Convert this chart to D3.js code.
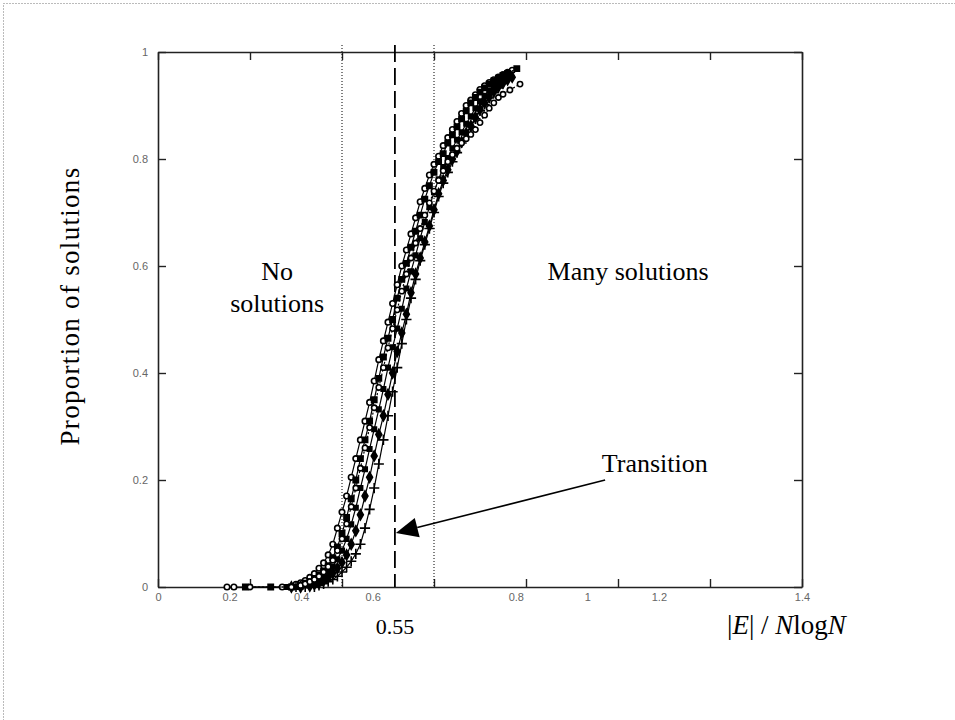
<!DOCTYPE html>
<html>
<head>
<meta charset="utf-8">
<script src="https://cdn.jsdelivr.net/npm/d3@7"></script>
<style>
  body { margin: 0; background: #fff; }
  svg { display: block; }
</style>
</head>
<body>
<div id="chart"></div>
<script>
// tick values (marks) and the label row printed under the axis
var xTicks = [0, 0.2, 0.4, 0.6, 0.8, 1, 1.2, 1.4];
var xLabelRow = ["0", "0.2", "0.4", "0.6", "", "0.8", "1", "1.2", "", "1.4"];
var yTicks = [0, 0.2, 0.4, 0.6, 0.8, 1];
var yTickLabels = ["0", "0.2", "0.4", "0.6", "0.8", "1"];

// reference lines (x values)
var boundLines = [0.4, 0.6];
var transitionX = 0.515;

// series: [x, proportion]
var s1 = [[0.15,0],[0.165,0],[0.27,0],[0.30,0.005],[0.31,0.008],[0.32,0.012],[0.33,0.018],[0.34,0.025],[0.35,0.035],[0.36,0.045],[0.37,0.06],[0.38,0.08],[0.39,0.11],[0.40,0.14],[0.41,0.17],[0.42,0.205],[0.43,0.24],[0.44,0.275],[0.45,0.31],[0.46,0.345],[0.47,0.385],[0.48,0.425],[0.49,0.46],[0.50,0.495],[0.51,0.53],[0.52,0.565],[0.53,0.60],[0.54,0.63],[0.55,0.66],[0.56,0.69],[0.57,0.72],[0.58,0.745],[0.59,0.77],[0.60,0.79],[0.61,0.805],[0.62,0.825],[0.63,0.84],[0.64,0.855],[0.65,0.87],[0.66,0.885],[0.67,0.90],[0.68,0.91],[0.69,0.92],[0.70,0.93],[0.71,0.937],[0.72,0.943],[0.73,0.948],[0.74,0.953],[0.75,0.958],[0.76,0.962],[0.77,0.966]];
var s2 = [[0.19,0],[0.245,0],[0.29,0],[0.31,0.004],[0.32,0.007],[0.33,0.01],[0.34,0.016],[0.35,0.022],[0.36,0.03],[0.37,0.04],[0.38,0.055],[0.39,0.075],[0.40,0.10],[0.41,0.13],[0.42,0.165],[0.43,0.20],[0.44,0.24],[0.45,0.275],[0.46,0.31],[0.47,0.35],[0.48,0.39],[0.49,0.43],[0.50,0.465],[0.51,0.50],[0.52,0.54],[0.53,0.575],[0.54,0.605],[0.55,0.635],[0.56,0.665],[0.57,0.695],[0.58,0.725],[0.59,0.75],[0.60,0.775],[0.61,0.795],[0.62,0.81],[0.63,0.83],[0.64,0.845],[0.65,0.86],[0.66,0.875],[0.67,0.89],[0.68,0.905],[0.69,0.915],[0.70,0.925],[0.71,0.933],[0.72,0.94],[0.73,0.946],[0.74,0.951],[0.75,0.956],[0.76,0.96],[0.78,0.969]];
var s3 = [[0.28,0],[0.30,0],[0.31,0],[0.32,0.003],[0.33,0.006],[0.34,0.01],[0.35,0.014],[0.36,0.022],[0.37,0.03],[0.38,0.038],[0.39,0.052],[0.40,0.068],[0.41,0.09],[0.42,0.117],[0.43,0.148],[0.44,0.185],[0.45,0.22],[0.46,0.258],[0.47,0.295],[0.48,0.332],[0.49,0.37],[0.50,0.41],[0.51,0.448],[0.52,0.483],[0.53,0.52],[0.54,0.558],[0.55,0.59],[0.56,0.62],[0.57,0.652],[0.58,0.682],[0.59,0.71],[0.60,0.738],[0.61,0.762],[0.62,0.785],[0.63,0.802],[0.64,0.82],[0.65,0.836],[0.66,0.85],[0.67,0.866],[0.68,0.88],[0.69,0.895],[0.70,0.908],[0.71,0.918],[0.72,0.928],[0.73,0.936],[0.74,0.944],[0.75,0.95],[0.76,0.955]];
var s4 = [[0.29,0],[0.31,0],[0.33,0.002],[0.34,0.005],[0.35,0.008],[0.36,0.012],[0.37,0.018],[0.38,0.026],[0.39,0.035],[0.40,0.046],[0.41,0.06],[0.42,0.08],[0.43,0.105],[0.44,0.135],[0.45,0.17],[0.46,0.205],[0.47,0.245],[0.48,0.285],[0.49,0.32],[0.50,0.36],[0.51,0.40],[0.52,0.44],[0.53,0.475],[0.54,0.51],[0.55,0.55],[0.56,0.585],[0.57,0.615],[0.58,0.645],[0.59,0.675],[0.60,0.705],[0.61,0.735],[0.62,0.76],[0.63,0.78],[0.64,0.80],[0.65,0.815],[0.66,0.832],[0.67,0.848],[0.68,0.862],[0.69,0.878],[0.70,0.893],[0.71,0.905],[0.72,0.916],[0.73,0.926],[0.74,0.935],[0.75,0.942],[0.76,0.948],[0.77,0.953]];
var s5 = [[0.30,0],[0.32,0],[0.34,0],[0.35,0.003],[0.36,0.006],[0.37,0.01],[0.38,0.014],[0.39,0.02],[0.40,0.028],[0.41,0.037],[0.42,0.048],[0.43,0.062],[0.44,0.08],[0.45,0.11],[0.46,0.145],[0.47,0.185],[0.48,0.23],[0.49,0.275],[0.50,0.32],[0.51,0.365],[0.52,0.41],[0.53,0.455],[0.54,0.50],[0.55,0.54],[0.56,0.575],[0.57,0.61],[0.58,0.64],[0.59,0.67],[0.60,0.70],[0.61,0.73],[0.62,0.755],[0.63,0.775],[0.64,0.795],[0.65,0.812],[0.66,0.83],[0.67,0.845],[0.68,0.86],[0.69,0.875],[0.70,0.89],[0.71,0.902],[0.72,0.914],[0.73,0.924],[0.74,0.933]];
var s6 = [[0.20,0],[0.29,0],[0.31,0.003],[0.32,0.006],[0.33,0.01],[0.34,0.014],[0.35,0.02],[0.36,0.028],[0.37,0.038],[0.38,0.05],[0.39,0.068],[0.40,0.09],[0.41,0.118],[0.42,0.15],[0.43,0.185],[0.44,0.222],[0.45,0.26],[0.46,0.298],[0.47,0.335],[0.48,0.373],[0.49,0.41],[0.50,0.447],[0.51,0.483],[0.52,0.518],[0.53,0.553],[0.54,0.585],[0.55,0.615],[0.56,0.643],[0.57,0.67],[0.58,0.695],[0.59,0.718],[0.60,0.74],[0.61,0.76],[0.62,0.778],[0.63,0.795],[0.64,0.808],[0.65,0.82],[0.66,0.83],[0.67,0.838],[0.68,0.846],[0.69,0.855],[0.70,0.868],[0.71,0.882],[0.72,0.895],[0.73,0.905],[0.74,0.915],[0.75,0.921],[0.765,0.929],[0.787,0.94]];

var allSeries = [s1, s2, s3, s4, s5, s6];

drawChart();

function drawChart() {
  var width = 955, height = 720;
  var left = 158, top = 52, right = 802, bottom = 587;

  var svg = d3.select('#chart').append('svg')
    .attr('width', width)
    .attr('height', height);

  // dotted frame round the figure
  svg.append('rect')
    .attr('x', 3.5).attr('y', 3.5)
    .attr('width', 1000).attr('height', 800)
    .attr('fill', 'none')
    .attr('stroke', '#777')
    .attr('stroke-dasharray', '1,2');

  var x = d3.scaleLinear().domain([0, 1.4]).range([left, right]);
  var y = d3.scaleLinear().domain([0, 1]).range([bottom, top]);
  // the printed label row has its own even spacing
  var xLab = d3.scalePoint().domain(d3.range(xLabelRow.length)).range([left, right]);

  var fmtY = function(d, i) { return yTickLabels[i]; };

  var gx = svg.append('g').attr('transform', 'translate(0,' + bottom + ')')
    .call(d3.axisBottom(x).tickValues(xTicks).tickFormat('')
      .tickSizeInner(-8).tickSizeOuter(0));
  var gxl = svg.append('g').attr('transform', 'translate(0,' + bottom + ')')
    .call(d3.axisBottom(xLab).tickFormat(function(d) { return xLabelRow[d]; })
      .tickSize(0).tickPadding(6));
  gxl.select('.domain').remove();
  var gy = svg.append('g').attr('transform', 'translate(' + left + ',0)')
    .call(d3.axisLeft(y).tickValues(yTicks).tickFormat(fmtY)
      .tickSizeInner(-8).tickSizeOuter(0).tickPadding(10));
  var gt = svg.append('g').attr('transform', 'translate(0,' + top + ')')
    .call(d3.axisTop(x).tickValues(xTicks).tickFormat('')
      .tickSizeInner(-8).tickSizeOuter(0));
  var gr = svg.append('g').attr('transform', 'translate(' + right + ',0)')
    .call(d3.axisRight(y).tickValues(yTicks).tickFormat('')
      .tickSizeInner(-8).tickSizeOuter(0));

  [gx, gy, gt, gr].forEach(function(g) {
    g.select('.domain').attr('stroke', '#222').attr('stroke-width', 1.6);
    g.selectAll('.tick line').attr('stroke', '#222').attr('stroke-width', 1.4);
  });
  [gxl, gy].forEach(function(g) {
    g.selectAll('.tick text')
      .attr('font-family', 'Liberation Sans, Arial, sans-serif')
      .attr('font-size', 11)
      .attr('fill', '#666');
  });

  // vertical reference lines
  svg.selectAll('line.bound')
    .data(boundLines)
    .enter()
    .append('line')
    .attr('class', 'bound')
    .attr('x1', function(d) { return x(d); })
    .attr('x2', function(d) { return x(d); })
    .attr('y1', top - 7)
    .attr('y2', bottom)
    .attr('stroke', '#000')
    .attr('stroke-width', 1)
    .attr('stroke-dasharray', '1,2');

  svg.append('line')
    .attr('x1', x(transitionX)).attr('x2', x(transitionX))
    .attr('y1', top - 7).attr('y2', bottom)
    .attr('stroke', '#000')
    .attr('stroke-width', 1.8)
    .attr('stroke-dasharray', '17,6');

  // curves
  var line = d3.line()
    .x(function(d) { return x(d[0]); })
    .y(function(d) { return y(d[1]); });

  var symbols = [d3.symbolCircle, d3.symbolSquare, d3.symbolSquare, d3.symbolDiamond, d3.symbolPlus, d3.symbolCircle];
  var symSize = [24, 28, 20, 30, 36, 22];
  var filled = [false, true, true, true, false, false];
  var lineDash = [null, null, null, null, null, '2,2'];

  var gs = svg.append('g');
  allSeries.forEach(function(s, k) {
    gs.append('path')
      .datum(s)
      .attr('d', line)
      .attr('fill', 'none')
      .attr('stroke', '#000')
      .attr('stroke-width', 1.2)
      .attr('stroke-dasharray', lineDash[k]);

    gs.selectAll('path.m' + k)
      .data(s)
      .enter()
      .append('path')
      .attr('class', 'm' + k)
      .attr('transform', function(d) { return 'translate(' + x(d[0]) + ',' + y(d[1]) + ')'; })
      .attr('d', d3.symbol().type(symbols[k]).size(symSize[k]))
      .attr('fill', filled[k] ? '#000' : '#fff')
      .attr('stroke', '#000')
      .attr('stroke-width', 1.6);
  });

  // annotations
  var serif = 'Liberation Serif, Times New Roman, serif';

  svg.append('text')
    .attr('transform', 'translate(79,306) rotate(-90)')
    .attr('text-anchor', 'middle')
    .attr('font-family', serif)
    .attr('font-size', 27)
    .attr('letter-spacing', 1.3)
    .text('Proportion of solutions');

  svg.append('text')
    .attr('x', x(0.259)).attr('y', 280)
    .attr('text-anchor', 'middle')
    .attr('font-family', serif).attr('font-size', 26)
    .text('No');
  svg.append('text')
    .attr('x', x(0.259)).attr('y', 312)
    .attr('text-anchor', 'middle')
    .attr('font-family', serif).attr('font-size', 26)
    .text('solutions');

  svg.append('text')
    .attr('x', x(1.022)).attr('y', 280)
    .attr('text-anchor', 'middle')
    .attr('font-family', serif).attr('font-size', 26)
    .text('Many solutions');

  svg.append('text')
    .attr('x', x(1.08)).attr('y', 472)
    .attr('text-anchor', 'middle')
    .attr('font-family', serif).attr('font-size', 26)
    .text('Transition');

  // arrow from label to transition line
  var tail = [x(0.972), 480];
  var tip = [x(transitionX) + 1, 533];
  var ang = Math.atan2(tip[1] - tail[1], tip[0] - tail[0]);
  var hl = 22, hw = 10;
  var bx = tip[0] - hl * Math.cos(ang), by = tip[1] - hl * Math.sin(ang);
  svg.append('line')
    .attr('x1', tail[0]).attr('y1', tail[1])
    .attr('x2', bx).attr('y2', by)
    .attr('stroke', '#000').attr('stroke-width', 1.6);
  svg.append('path')
    .attr('d', 'M' + tip[0] + ',' + tip[1] +
      'L' + (bx + hw * Math.sin(ang)) + ',' + (by - hw * Math.cos(ang)) +
      'L' + (bx - hw * Math.sin(ang)) + ',' + (by + hw * Math.cos(ang)) + 'Z')
    .attr('fill', '#000');

  svg.append('text')
    .attr('x', x(transitionX)).attr('y', 634)
    .attr('text-anchor', 'middle')
    .attr('font-family', serif).attr('font-size', 22)
    .text('0.55');

  var xl = svg.append('text')
    .attr('x', 727).attr('y', 634)
    .attr('font-family', serif).attr('font-size', 27);
  xl.append('tspan').text('|');
  xl.append('tspan').attr('font-style', 'italic').text('E');
  xl.append('tspan').text('| / ');
  xl.append('tspan').attr('font-style', 'italic').text('N');
  xl.append('tspan').text('log');
  xl.append('tspan').attr('font-style', 'italic').text('N');
}
</script>
</body>
</html>
